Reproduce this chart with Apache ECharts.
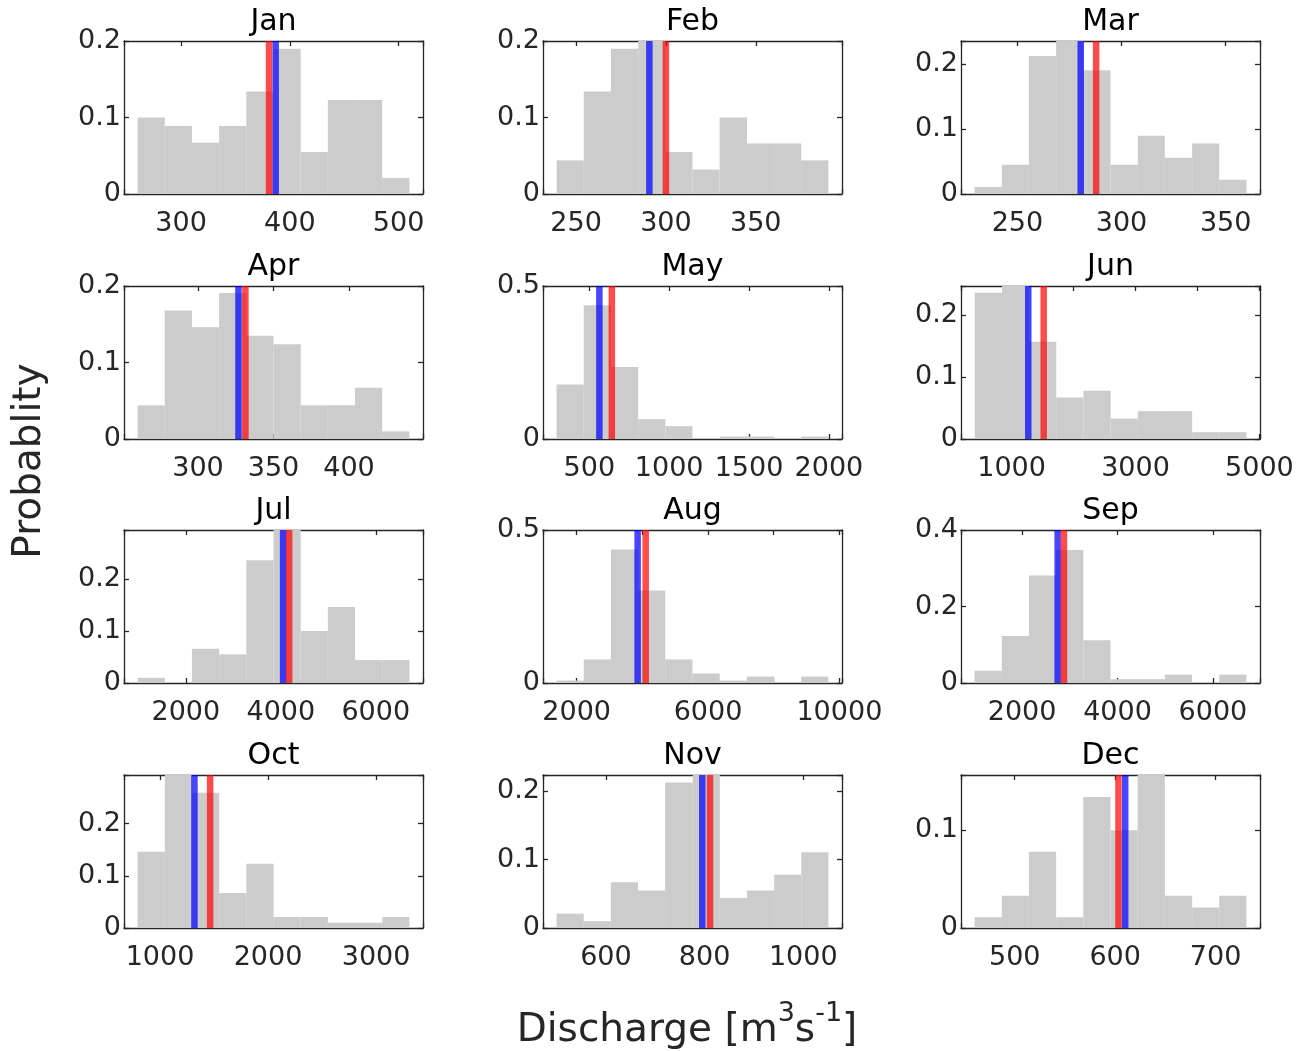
<!DOCTYPE html>
<html><head><meta charset="utf-8">
<script src="https://cdn.jsdelivr.net/npm/echarts@6/dist/echarts.min.js"></script>
<style>html,body{margin:0;padding:0;background:#fff}#c{width:1312px;height:1051px}</style>
</head><body><div id="c"></div>
<script>
const months = ['Jan','Feb','Mar','Apr','May','Jun','Jul','Aug','Sep','Oct','Nov','Dec'];

const edgesJan = [260, 285, 310, 335, 360, 385, 410, 435, 460, 485, 510];
const probJan  = [0.100, 0.089, 0.067, 0.089, 0.134, 0.190, 0.055, 0.123, 0.123, 0.021];
const edgesFeb = [239.2, 254.3, 269.4, 284.6, 299.7, 314.8, 329.9, 345.1, 360.2, 375.3, 390.4];
const probFeb  = [0.044, 0.134, 0.190, 0.270, 0.055, 0.032, 0.100, 0.066, 0.066, 0.044];
const edgesMar = [229.4, 242.5, 255.5, 268.6, 281.6, 294.7, 307.8, 320.8, 333.9, 346.9, 360.0];
const probMar  = [0.011, 0.045, 0.213, 0.250, 0.191, 0.045, 0.090, 0.056, 0.078, 0.022];
const edgesApr = [260, 278, 296, 314, 332, 350, 368, 386, 404, 422, 440];
const probApr  = [0.044, 0.168, 0.146, 0.191, 0.135, 0.124, 0.044, 0.044, 0.067, 0.010];
const edgesMay = [295, 465, 635, 806, 976, 1146, 1316, 1486, 1657, 1827, 1997];
const probMay  = [0.178, 0.437, 0.235, 0.065, 0.042, 0, 0.008, 0.008, 0, 0.008];
const edgesJun = [405, 844, 1282, 1721, 2160, 2599, 3037, 3476, 3915, 4353, 4792];
const probJun  = [0.236, 0.318, 0.157, 0.067, 0.078, 0.033, 0.045, 0.045, 0.011, 0.011];
const edgesJul = [983, 1556, 2128, 2701, 3273, 3846, 4418, 4991, 5563, 6136, 6708];
const probJul  = [0.010, 0, 0.066, 0.055, 0.236, 0.298, 0.100, 0.146, 0.044, 0.044];
const edgesAug = [1388, 2216, 3043, 3871, 4698, 5526, 6354, 7181, 8009, 8836, 9664];
const probAug  = [0.008, 0.077, 0.436, 0.302, 0.077, 0.031, 0.008, 0.021, 0, 0.021];
const edgesSep = [1004, 1574, 2144, 2714, 3284, 3854, 4423, 4993, 5563, 6133, 6703];
const probSep  = [0.032, 0.123, 0.281, 0.348, 0.112, 0.010, 0.010, 0.022, 0, 0.022];
const edgesOct = [793, 1045, 1296, 1548, 1799, 2051, 2302, 2554, 2805, 3057, 3308];
const probOct  = [0.146, 0.320, 0.259, 0.067, 0.123, 0.021, 0.021, 0.010, 0.010, 0.021];
const edgesNov = [500, 555, 610, 665, 720, 776, 831, 886, 941, 996, 1051];
const probNov  = [0.021, 0.010, 0.067, 0.055, 0.213, 0.345, 0.044, 0.055, 0.078, 0.111];
const edgesDec = [460, 487.1, 514.1, 541.2, 568.3, 595.4, 622.4, 649.5, 676.6, 703.6, 730.7];
const probDec  = [0.011, 0.033, 0.078, 0.011, 0.134, 0.100, 0.547, 0.033, 0.021, 0.033];

const blueLine = [387, 290.8, 280.4, 326.8, 563, 1269, 4048, 3856, 2745, 1319, 795.3, 610];
const redLine  = [380.9, 300.0, 287.8, 331.4, 641, 1518, 4175, 4101, 2878, 1464, 811, 603.3];

const xMin  = [247.5, 231.6, 222.9, 251, 210, 183, 697, 974, 719, 667, 472.5, 446.5];
const xMax  = [522.5, 398, 366.5, 449, 2082, 5010, 6994, 10080, 6988, 3434, 1078.5, 744.2];
const xStep = [100, 50, 50, 50, 500, 1000, 2000, 2000, 2000, 1000, 200, 100];
const xTickLabels = [
  ['300','400','500'], ['250','300','350'], ['250','300','350'],
  ['300','350','400'], ['500','1000','1500','2000'], ['1000','3000','5000'],
  ['2000','4000','6000'], ['2000','6000','10000'], ['2000','4000','6000'],
  ['1000','2000','3000'], ['600','800','1000'], ['500','600','700']
];
const yMax  = [0.2, 0.2, 0.236, 0.2, 0.5, 0.247, 0.294, 0.5, 0.4, 0.293, 0.224, 0.1565];
const yStep = [0.1, 0.1, 0.1, 0.1, 0.5, 0.1, 0.1, 0.5, 0.2, 0.1, 0.1, 0.1];
const yTickLabels = [
  ['0','0.1','0.2'], ['0','0.1','0.2'], ['0','0.1','0.2'],
  ['0','0.1','0.2'], ['0','0.5'], ['0','0.1','0.2'],
  ['0','0.1','0.2'], ['0','0.5'], ['0','0.2','0.4'],
  ['0','0.1','0.2'], ['0','0.1','0.2'], ['0','0.1']
];

const binEdges = [edgesJan, edgesFeb, edgesMar, edgesApr, edgesMay, edgesJun,
                  edgesJul, edgesAug, edgesSep, edgesOct, edgesNov, edgesDec];
const binProb  = [probJan, probFeb, probMar, probApr, probMay, probJun,
                  probJul, probAug, probSep, probOct, probNov, probDec];

// ---- layout / style ----
const FONT = '"DejaVu Sans", sans-serif';
const AXIS_COLOR = '#262626';
const colLeft = [124, 543, 961];
const rowTop = [41, 286, 530, 775];
const plotW = 299, plotH = 153;

function labelFormatter(list) {
  return function (v) {
    for (const s of list) {
      const n = parseFloat(s);
      if (Math.abs(v - n) < 1e-6 * Math.max(1, Math.abs(n))) return s;
    }
    return '';
  };
}

const grids = [], xAxes = [], yAxes = [], series = [], titles = [];
const lineStyle = { color: AXIS_COLOR, width: 1.3 };

months.forEach((m, i) => {
  const r = Math.floor(i / 3), c = i % 3;
  const left = colLeft[c], top = rowTop[r];
  grids.push({ left: left, top: top, width: plotW, height: plotH, containLabel: false });

  titles.push({
    text: m, left: left + plotW / 2, top: top - 34, padding: 0,
    textAlign: 'center', textVerticalAlign: 'top',
    textStyle: { fontFamily: FONT, fontSize: 30, fontWeight: 'normal', color: '#000' }
  });

  const xCommon = {
    gridIndex: i, type: 'value', min: xMin[i], max: xMax[i],
    minInterval: xStep[i], maxInterval: xStep[i],
    axisLine: { show: true, onZero: false, lineStyle: lineStyle },
    axisTick: { show: true, inside: true, length: 5, lineStyle: lineStyle },
    splitLine: { show: false }
  };
  xAxes.push(Object.assign({}, xCommon, {
    position: 'bottom',
    axisLabel: { show: true, margin: 16, fontSize: 27, fontFamily: FONT, color: AXIS_COLOR,
                 showMinLabel: true, showMaxLabel: true, formatter: labelFormatter(xTickLabels[i]) }
  }));
  xAxes.push(Object.assign({}, xCommon, { position: 'top', axisLabel: { show: false } }));

  const yCommon = {
    gridIndex: i, type: 'value', min: 0, max: yMax[i], interval: yStep[i],
    axisLine: { show: true, onZero: false, lineStyle: lineStyle },
    axisTick: { show: true, inside: true, length: 5, lineStyle: lineStyle },
    splitLine: { show: false }
  };
  yAxes.push(Object.assign({}, yCommon, {
    position: 'left',
    axisLabel: { show: true, margin: 3, fontSize: 27, fontFamily: FONT, color: AXIS_COLOR,
                 padding: [5, 0, 0, 0],
                 showMinLabel: true, showMaxLabel: true, formatter: labelFormatter(yTickLabels[i]) }
  }));
  yAxes.push(Object.assign({}, yCommon, { position: 'right', axisLabel: { show: false } }));

  const edges = binEdges[i], prob = binProb[i];
  const histData = prob.map((p, k) => [edges[k], edges[k + 1], p]);

  series.push({
    type: 'custom', xAxisIndex: 2 * i, yAxisIndex: 2 * i, z: 1, silent: true,
    encode: { x: [0, 1], y: 2 },
    data: histData,
    renderItem: function (params, api) {
      const p0 = api.coord([api.value(0), 0]);
      const p1 = api.coord([api.value(1), api.value(2)]);
      const cs = params.coordSys;
      const rect = echarts.graphic.clipRectByRect(
        { x: p0[0], y: p1[1], width: p1[0] - p0[0], height: p0[1] - p1[1] },
        { x: cs.x, y: cs.y, width: cs.width, height: cs.height });
      if (!rect || rect.height <= 0) return null;
      return { type: 'rect', shape: rect, style: { fill: '#cccccc' } };
    }
  });

  series.push({
    type: 'line', xAxisIndex: 2 * i, yAxisIndex: 2 * i, z: 3, silent: true,
    symbol: 'none', data: [[blueLine[i], 0], [blueLine[i], yMax[i]]],
    lineStyle: { color: 'rgba(0,0,255,0.72)', width: 6.5, cap: 'butt' }
  });
  series.push({
    type: 'line', xAxisIndex: 2 * i, yAxisIndex: 2 * i, z: 4, silent: true,
    symbol: 'none', data: [[redLine[i], 0], [redLine[i], yMax[i]]],
    lineStyle: { color: 'rgba(255,0,0,0.7)', width: 6.5, cap: 'butt' }
  });
});

const chart = echarts.init(document.getElementById('c'), null, { renderer: 'canvas' });
chart.setOption({
  backgroundColor: '#ffffff',
  animation: false,
  title: titles,
  grid: grids,
  xAxis: xAxes,
  yAxis: yAxes,
  series: series,
  graphic: [
    {
      type: 'text', x: 30, y: 461, rotation: Math.PI / 2,
      style: { text: 'Probablity', fontSize: 39, fontFamily: FONT, fill: AXIS_COLOR,
               align: 'center', verticalAlign: 'middle' }
    },
    {
      type: 'text', x: 687, y: 1025,
      style: {
        text: '{a|Discharge [m}{b|3}{a|s}{b|-1}{a|]}',
        align: 'center', verticalAlign: 'middle',
        fontSize: 39, fontFamily: FONT, fill: AXIS_COLOR,
        rich: {
          a: { fontSize: 39, fontFamily: FONT, fill: AXIS_COLOR, lineHeight: 50, verticalAlign: 'bottom' },
          b: { fontSize: 27, fontFamily: FONT, fill: AXIS_COLOR, lineHeight: 30, verticalAlign: 'top' }
        }
      }
    }
  ]
});
</script>
</body></html>
